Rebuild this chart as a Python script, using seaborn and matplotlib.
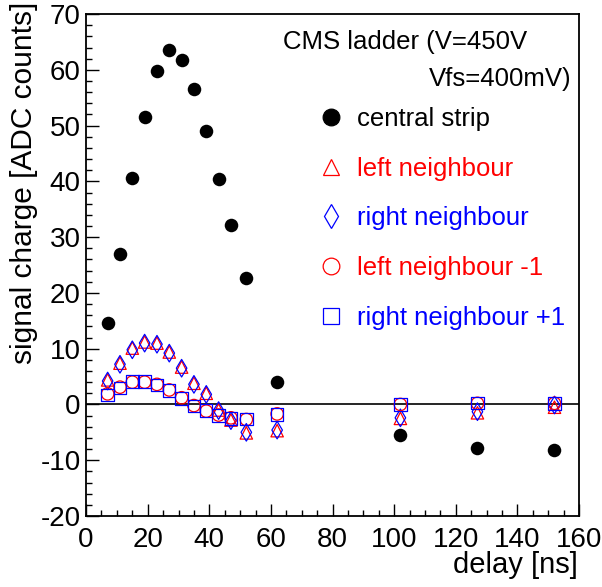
import numpy as np
import matplotlib
matplotlib.use("Agg")
import matplotlib.pyplot as plt
from matplotlib.ticker import MultipleLocator
from matplotlib.lines import Line2D
import seaborn as sns

# Data
delay = [7, 11, 15, 19, 23, 27, 31, 35, 39, 43, 47, 52, 62]
delay_far = [102, 127, 152]

central = [14.6, 27.0, 40.6, 51.6, 59.8, 63.5, 61.8, 56.5, 49.0, 40.4, 32.2, 22.6, 4.1,
           -5.5, -7.8, -8.2]
left_nb = [4.4, 7.4, 10.1, 11.2, 11.0, 9.4, 6.7, 3.8, 2.0, -1.0, -2.8, -5.1, -4.7,
           -2.5, -1.5, -0.5]
right_nb = [4.2, 7.2, 9.8, 11.0, 10.8, 9.2, 6.5, 3.6, 1.8, -1.1, -2.9, -5.0, -4.6,
            -2.4, -1.3, -0.1]
left_nb1 = [1.9, 3.1, 4.0, 4.0, 3.6, 2.6, 1.2, -0.2, -1.2, -1.9, -2.4, -2.7, -1.7,
            0.0, 0.2, 0.2]
right_nb1 = [1.7, 3.0, 4.1, 4.1, 3.5, 2.5, 1.1, -0.3, -1.1, -2.0, -2.5, -2.6, -1.8,
             0.0, 0.3, 0.2]
x_all = delay + delay_far

series = [
    ("central strip", central, "o", "black", True),
    ("left neighbour", left_nb, "^", "red", False),
    ("right neighbour", right_nb, "d", "blue", False),
    ("left neighbour -1", left_nb1, "o", "red", False),
    ("right neighbour +1", right_nb1, "s", "blue", False),
]

sns.set_style("ticks")
plt.rcParams["font.family"] = ["Liberation Sans", "DejaVu Sans"]
plt.rcParams["axes.unicode_minus"] = False
for k in ["text.color", "axes.labelcolor", "xtick.color", "ytick.color", "axes.edgecolor"]:
    plt.rcParams[k] = "black"

fig = plt.figure(figsize=(6.02, 5.87), dpi=100)
ax = fig.add_axes([0.143, 0.121, 0.819, 0.855])

ax.axhline(0, color="black", lw=1.2, zorder=1)

handles = []
for name, vals, mk, col, filled in series:
    if filled:
        sns.scatterplot(x=x_all, y=vals, ax=ax, marker=mk, s=95, color=col,
                        edgecolor=col, linewidth=0, zorder=3)
    else:
        sns.scatterplot(x=x_all, y=vals, ax=ax, marker=mk, s=80, facecolor="none",
                        edgecolor=col, linewidth=0.9, zorder=2)
    handles.append(Line2D([], [], ls="none", marker=mk, markersize=12,
                          markerfacecolor=col if filled else "none",
                          markeredgecolor=col, markeredgewidth=0.9, label=name))

ax.set_xlim(0, 160)
ax.set_ylim(-20, 70)
ax.xaxis.set_major_locator(MultipleLocator(20))
ax.xaxis.set_minor_locator(MultipleLocator(5))
ax.yaxis.set_major_locator(MultipleLocator(10))
ax.yaxis.set_minor_locator(MultipleLocator(2))
ax.tick_params(which="major", direction="in", length=9, width=1, labelsize=20,
               top=False, right=False)
ax.tick_params(which="minor", direction="in", length=4.5, width=1, top=False, right=False)
ax.tick_params(axis="x", pad=8)
ax.tick_params(axis="y", pad=4)
for sp in ax.spines.values():
    sp.set_linewidth(1.3)

ax.set_xlabel("delay [ns]", fontsize=21, loc="right")
ax.set_ylabel("signal charge [ADC counts]", fontsize=21.5, loc="top")
ax.xaxis.set_label_coords(0.998, -0.07)
ax.yaxis.set_label_coords(-0.098, 1.024)

fig.text(283 / 602, 1 - 42 / 587, "CMS ladder (V=450V", ha="left", va="center",
         fontsize=18.5)
fig.text(572 / 602, 1 - 79 / 587, "Vfs=400mV)", ha="right", va="center",
         fontsize=18.5)

leg = ax.legend(handles=handles, loc="upper left", bbox_to_anchor=(0.524, 0.818),
                bbox_transform=fig.transFigure, frameon=False, fontsize=18.5,
                labelspacing=1.0, handlelength=1.2, handletextpad=0.4,
                borderpad=0, borderaxespad=0,
                labelcolor=["black", "red", "blue", "red", "blue"])

fig.savefig("out.png", dpi=100)
